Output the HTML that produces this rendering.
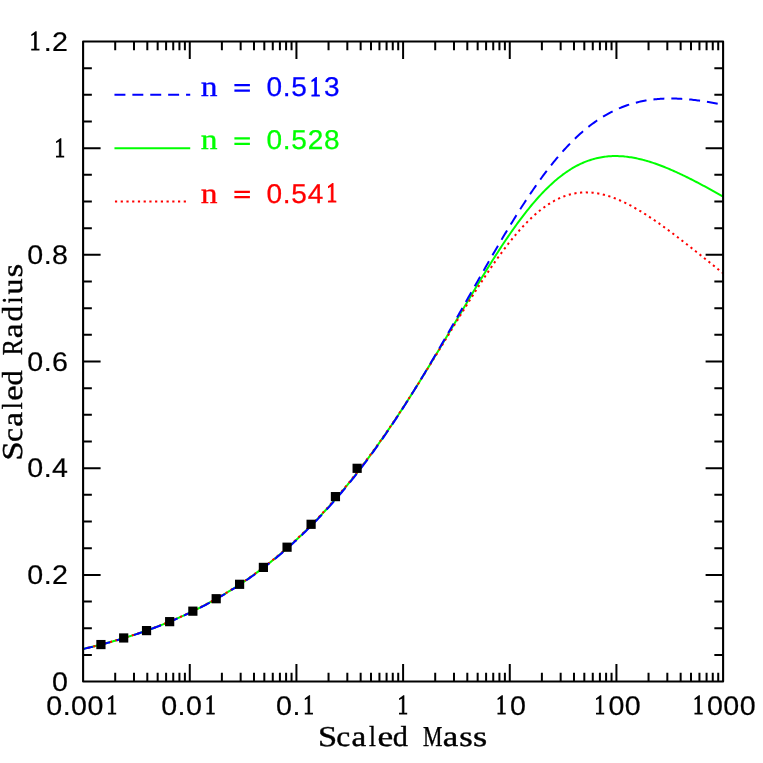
<!DOCTYPE html>
<html><head><meta charset="utf-8"><title>Scaled Mass - Scaled Radius</title>
<style>
html,body{margin:0;padding:0;background:#fff;}
svg{display:block;}
#wrap{width:763px;height:763px;will-change:transform;}
text{font-family:"Liberation Sans",sans-serif;text-rendering:geometricPrecision;}
.serif text, text.serif{font-family:"Liberation Serif",serif;}
</style></head><body>
<div id="wrap">
<svg width="763" height="763" viewBox="0 0 763 763">
<rect x="0" y="0" width="763" height="763" fill="#fff"/>
<defs><clipPath id="clip"><rect x="83.1" y="41.5" width="640.0" height="640.05"/></clipPath></defs>
<g clip-path="url(#clip)" fill="none" stroke-width="2" stroke-linejoin="round">
<path d="M83.10,648.96 L84.43,648.65 L85.77,648.34 L87.10,648.02 L88.43,647.71 L89.77,647.39 L91.10,647.06 L92.43,646.74 L93.77,646.41 L95.10,646.07 L96.43,645.74 L97.77,645.40 L99.10,645.06 L100.43,644.71 L101.77,644.36 L103.10,644.01 L104.43,643.66 L105.77,643.30 L107.10,642.94 L108.43,642.57 L109.77,642.20 L111.10,641.83 L112.43,641.46 L113.77,641.08 L115.10,640.69 L116.43,640.31 L117.77,639.92 L119.10,639.53 L120.43,639.13 L121.77,638.73 L123.10,638.33 L124.43,637.92 L125.77,637.51 L127.10,637.09 L128.43,636.67 L129.77,636.25 L131.10,635.83 L132.43,635.40 L133.77,634.96 L135.10,634.52 L136.43,634.08 L137.77,633.63 L139.10,633.18 L140.43,632.73 L141.77,632.27 L143.10,631.81 L144.43,631.34 L145.77,630.87 L147.10,630.39 L148.43,629.91 L149.77,629.43 L151.10,628.94 L152.43,628.45 L153.77,627.95 L155.10,627.45 L156.43,626.94 L157.77,626.43 L159.10,625.91 L160.43,625.39 L161.77,624.87 L163.10,624.34 L164.43,623.80 L165.77,623.26 L167.10,622.72 L168.43,622.17 L169.77,621.62 L171.10,621.06 L172.43,620.49 L173.77,619.92 L175.10,619.35 L176.43,618.77 L177.77,618.18 L179.10,617.59 L180.43,617.00 L181.77,616.40 L183.10,615.79 L184.43,615.18 L185.77,614.56 L187.10,613.94 L188.43,613.31 L189.77,612.68 L191.10,612.04 L192.43,611.40 L193.77,610.75 L195.10,610.09 L196.43,609.43 L197.77,608.76 L199.10,608.09 L200.43,607.41 L201.77,606.72 L203.10,606.03 L204.43,605.33 L205.77,604.63 L207.10,603.92 L208.43,603.20 L209.77,602.48 L211.10,601.75 L212.43,601.02 L213.77,600.28 L215.10,599.53 L216.43,598.77 L217.77,598.01 L219.10,597.25 L220.43,596.47 L221.77,595.69 L223.10,594.90 L224.43,594.11 L225.77,593.31 L227.10,592.50 L228.43,591.68 L229.77,590.86 L231.10,590.03 L232.43,589.20 L233.77,588.35 L235.10,587.50 L236.43,586.64 L237.77,585.78 L239.10,584.91 L240.43,584.03 L241.77,583.14 L243.10,582.24 L244.43,581.34 L245.77,580.43 L247.10,579.51 L248.43,578.59 L249.77,577.66 L251.10,576.72 L252.43,575.77 L253.77,574.81 L255.10,573.85 L256.43,572.87 L257.77,571.89 L259.10,570.90 L260.43,569.91 L261.77,568.90 L263.10,567.89 L264.43,566.87 L265.77,565.84 L267.10,564.80 L268.43,563.75 L269.77,562.69 L271.10,561.63 L272.43,560.56 L273.77,559.48 L275.10,558.39 L276.43,557.29 L277.77,556.18 L279.10,555.06 L280.43,553.94 L281.77,552.80 L283.10,551.66 L284.43,550.51 L285.77,549.34 L287.10,548.17 L288.43,546.99 L289.77,545.80 L291.10,544.60 L292.43,543.40 L293.77,542.18 L295.10,540.95 L296.43,539.72 L297.77,538.47 L299.10,537.21 L300.43,535.95 L301.77,534.67 L303.10,533.39 L304.43,532.09 L305.77,530.79 L307.10,529.48 L308.43,528.15 L309.77,526.82 L311.10,525.47 L312.43,524.12 L313.77,522.76 L315.10,521.38 L316.43,520.00 L317.77,518.60 L319.10,517.20 L320.43,515.78 L321.77,514.36 L323.10,512.92 L324.43,511.48 L325.77,510.02 L327.10,508.55 L328.43,507.08 L329.77,505.59 L331.10,504.09 L332.43,502.58 L333.77,501.07 L335.10,499.54 L336.43,498.00 L337.77,496.45 L339.10,494.88 L340.43,493.31 L341.77,491.73 L343.10,490.14 L344.43,488.53 L345.77,486.92 L347.10,485.30 L348.43,483.66 L349.77,482.01 L351.10,480.36 L352.43,478.69 L353.77,477.01 L355.10,475.32 L356.43,473.62 L357.77,471.91 L359.10,470.19 L360.43,468.46 L361.77,466.72 L363.10,464.96 L364.43,463.20 L365.77,461.43 L367.10,459.64 L368.43,457.85 L369.77,456.04 L371.10,454.22 L372.43,452.40 L373.77,450.56 L375.10,448.71 L376.43,446.85 L377.77,444.99 L379.10,443.11 L380.43,441.22 L381.77,439.32 L383.10,437.41 L384.43,435.49 L385.77,433.56 L387.10,431.62 L388.43,429.67 L389.77,427.72 L391.10,425.75 L392.43,423.77 L393.77,421.78 L395.10,419.79 L396.43,417.78 L397.77,415.76 L399.10,413.74 L400.43,411.71 L401.77,409.66 L403.10,407.61 L404.43,405.55 L405.77,403.48 L407.10,401.41 L408.43,399.32 L409.77,397.23 L411.10,395.12 L412.43,393.01 L413.77,390.90 L415.10,388.77 L416.43,386.64 L417.77,384.50 L419.10,382.35 L420.43,380.20 L421.77,378.04 L423.10,375.87 L424.43,373.70 L425.77,371.52 L427.10,369.33 L428.43,367.14 L429.77,364.94 L431.10,362.74 L432.43,360.53 L433.77,358.32 L435.10,356.10 L436.43,353.88 L437.77,351.65 L439.10,349.42 L440.43,347.19 L441.77,344.95 L443.10,342.71 L444.43,340.46 L445.77,338.22 L447.10,335.97 L448.43,333.72 L449.77,331.47 L451.10,329.21 L452.43,326.96 L453.77,324.70 L455.10,322.45 L456.43,320.19 L457.77,317.93 L459.10,315.68 L460.43,313.42 L461.77,311.17 L463.10,308.92 L464.43,306.67 L465.77,304.42 L467.10,302.17 L468.43,299.93 L469.77,297.69 L471.10,295.46 L472.43,293.23 L473.77,291.00 L475.10,288.78 L476.43,286.56 L477.77,284.35 L479.10,282.15 L480.43,279.95 L481.77,277.76 L483.10,275.58 L484.43,273.41 L485.77,271.24 L487.10,269.08 L488.43,266.94 L489.77,264.80 L491.10,262.67 L492.43,260.55 L493.77,258.45 L495.10,256.35 L496.43,254.27 L497.77,252.20 L499.10,250.14 L500.43,248.10 L501.77,246.07 L503.10,244.05 L504.43,242.05 L505.77,240.06 L507.10,238.09 L508.43,236.13 L509.77,234.20 L511.10,232.27 L512.43,230.37 L513.77,228.48 L515.10,226.61 L516.43,224.76 L517.77,222.93 L519.10,221.12 L520.43,219.33 L521.77,217.56 L523.10,215.81 L524.43,214.08 L525.77,212.37 L527.10,210.68 L528.43,209.02 L529.77,207.37 L531.10,205.75 L532.43,204.16 L533.77,202.58 L535.10,201.03 L536.43,199.51 L537.77,198.01 L539.10,196.53 L540.43,195.08 L541.77,193.65 L543.10,192.25 L544.43,190.88 L545.77,189.53 L547.10,188.21 L548.43,186.91 L549.77,185.64 L551.10,184.40 L552.43,183.18 L553.77,181.99 L555.10,180.83 L556.43,179.69 L557.77,178.58 L559.10,177.50 L560.43,176.45 L561.77,175.42 L563.10,174.42 L564.43,173.45 L565.77,172.51 L567.10,171.59 L568.43,170.71 L569.77,169.85 L571.10,169.01 L572.43,168.21 L573.77,167.43 L575.10,166.68 L576.43,165.96 L577.77,165.26 L579.10,164.59 L580.43,163.95 L581.77,163.33 L583.10,162.74 L584.43,162.18 L585.77,161.65 L587.10,161.14 L588.43,160.65 L589.77,160.19 L591.10,159.76 L592.43,159.35 L593.77,158.97 L595.10,158.61 L596.43,158.28 L597.77,157.97 L599.10,157.69 L600.43,157.43 L601.77,157.19 L603.10,156.98 L604.43,156.79 L605.77,156.62 L607.10,156.47 L608.43,156.35 L609.77,156.25 L611.10,156.17 L612.43,156.11 L613.77,156.07 L615.10,156.06 L616.43,156.06 L617.77,156.08 L619.10,156.13 L620.43,156.19 L621.77,156.27 L623.10,156.37 L624.43,156.49 L625.77,156.63 L627.10,156.78 L628.43,156.95 L629.77,157.14 L631.10,157.35 L632.43,157.57 L633.77,157.81 L635.10,158.06 L636.43,158.33 L637.77,158.62 L639.10,158.92 L640.43,159.23 L641.77,159.56 L643.10,159.90 L644.43,160.26 L645.77,160.63 L647.10,161.01 L648.43,161.41 L649.77,161.82 L651.10,162.24 L652.43,162.67 L653.77,163.11 L655.10,163.57 L656.43,164.03 L657.77,164.51 L659.10,165.00 L660.43,165.50 L661.77,166.01 L663.10,166.52 L664.43,167.05 L665.77,167.59 L667.10,168.13 L668.43,168.69 L669.77,169.25 L671.10,169.82 L672.43,170.40 L673.77,170.99 L675.10,171.59 L676.43,172.19 L677.77,172.80 L679.10,173.42 L680.43,174.04 L681.77,174.67 L683.10,175.31 L684.43,175.95 L685.77,176.60 L687.10,177.26 L688.43,177.92 L689.77,178.59 L691.10,179.26 L692.43,179.94 L693.77,180.62 L695.10,181.30 L696.43,182.00 L697.77,182.69 L699.10,183.39 L700.43,184.10 L701.77,184.81 L703.10,185.52 L704.43,186.24 L705.77,186.96 L707.10,187.68 L708.43,188.41 L709.77,189.14 L711.10,189.87 L712.43,190.61 L713.77,191.35 L715.10,192.09 L716.43,192.84 L717.77,193.59 L719.10,194.34 L720.43,195.09 L721.77,195.84 L723.10,196.60" stroke="#00ff00"/>
<path d="M83.10,648.92 L84.43,648.62 L85.77,648.30 L87.10,647.99 L88.43,647.67 L89.77,647.35 L91.10,647.02 L92.43,646.70 L93.77,646.37 L95.10,646.03 L96.43,645.70 L97.77,645.36 L99.10,645.01 L100.43,644.67 L101.77,644.32 L103.10,643.97 L104.43,643.61 L105.77,643.25 L107.10,642.89 L108.43,642.52 L109.77,642.15 L111.10,641.78 L112.43,641.41 L113.77,641.03 L115.10,640.64 L116.43,640.26 L117.77,639.87 L119.10,639.47 L120.43,639.08 L121.77,638.67 L123.10,638.27 L124.43,637.86 L125.77,637.45 L127.10,637.03 L128.43,636.61 L129.77,636.19 L131.10,635.76 L132.43,635.33 L133.77,634.90 L135.10,634.46 L136.43,634.01 L137.77,633.57 L139.10,633.11 L140.43,632.66 L141.77,632.20 L143.10,631.74 L144.43,631.27 L145.77,630.79 L147.10,630.32 L148.43,629.84 L149.77,629.35 L151.10,628.86 L152.43,628.37 L153.77,627.87 L155.10,627.37 L156.43,626.86 L157.77,626.34 L159.10,625.83 L160.43,625.31 L161.77,624.78 L163.10,624.25 L164.43,623.71 L165.77,623.17 L167.10,622.62 L168.43,622.07 L169.77,621.52 L171.10,620.96 L172.43,620.39 L173.77,619.82 L175.10,619.24 L176.43,618.66 L177.77,618.08 L179.10,617.49 L180.43,616.89 L181.77,616.29 L183.10,615.68 L184.43,615.07 L185.77,614.45 L187.10,613.82 L188.43,613.19 L189.77,612.56 L191.10,611.92 L192.43,611.27 L193.77,610.62 L195.10,609.96 L196.43,609.30 L197.77,608.63 L199.10,607.95 L200.43,607.27 L201.77,606.58 L203.10,605.89 L204.43,605.19 L205.77,604.48 L207.10,603.77 L208.43,603.05 L209.77,602.33 L211.10,601.60 L212.43,600.86 L213.77,600.12 L215.10,599.37 L216.43,598.61 L217.77,597.85 L219.10,597.08 L220.43,596.30 L221.77,595.52 L223.10,594.73 L224.43,593.93 L225.77,593.13 L227.10,592.32 L228.43,591.50 L229.77,590.67 L231.10,589.84 L232.43,589.00 L233.77,588.16 L235.10,587.30 L236.43,586.44 L237.77,585.57 L239.10,584.70 L240.43,583.82 L241.77,582.93 L243.10,582.03 L244.43,581.12 L245.77,580.21 L247.10,579.29 L248.43,578.36 L249.77,577.43 L251.10,576.48 L252.43,575.53 L253.77,574.57 L255.10,573.60 L256.43,572.63 L257.77,571.64 L259.10,570.65 L260.43,569.65 L261.77,568.64 L263.10,567.63 L264.43,566.60 L265.77,565.57 L267.10,564.53 L268.43,563.48 L269.77,562.42 L271.10,561.35 L272.43,560.27 L273.77,559.19 L275.10,558.10 L276.43,556.99 L277.77,555.88 L279.10,554.76 L280.43,553.63 L281.77,552.50 L283.10,551.35 L284.43,550.19 L285.77,549.03 L287.10,547.85 L288.43,546.67 L289.77,545.48 L291.10,544.27 L292.43,543.06 L293.77,541.84 L295.10,540.61 L296.43,539.37 L297.77,538.12 L299.10,536.86 L300.43,535.59 L301.77,534.32 L303.10,533.03 L304.43,531.73 L305.77,530.42 L307.10,529.10 L308.43,527.78 L309.77,526.44 L311.10,525.09 L312.43,523.74 L313.77,522.37 L315.10,520.99 L316.43,519.60 L317.77,518.21 L319.10,516.80 L320.43,515.38 L321.77,513.95 L323.10,512.52 L324.43,511.07 L325.77,509.61 L327.10,508.14 L328.43,506.66 L329.77,505.17 L331.10,503.67 L332.43,502.16 L333.77,500.64 L335.10,499.11 L336.43,497.57 L337.77,496.01 L339.10,494.45 L340.43,492.88 L341.77,491.29 L343.10,489.70 L344.43,488.09 L345.77,486.48 L347.10,484.85 L348.43,483.22 L349.77,481.57 L351.10,479.91 L352.43,478.25 L353.77,476.57 L355.10,474.88 L356.43,473.18 L357.77,471.47 L359.10,469.75 L360.43,468.02 L361.77,466.28 L363.10,464.53 L364.43,462.77 L365.77,460.99 L367.10,459.21 L368.43,457.42 L369.77,455.62 L371.10,453.80 L372.43,451.98 L373.77,450.15 L375.10,448.30 L376.43,446.45 L377.77,444.59 L379.10,442.72 L380.43,440.83 L381.77,438.94 L383.10,437.04 L384.43,435.13 L385.77,433.21 L387.10,431.28 L388.43,429.34 L389.77,427.39 L391.10,425.43 L392.43,423.47 L393.77,421.49 L395.10,419.51 L396.43,417.51 L397.77,415.51 L399.10,413.50 L400.43,411.48 L401.77,409.46 L403.10,407.42 L404.43,405.38 L405.77,403.33 L407.10,401.27 L408.43,399.21 L409.77,397.13 L411.10,395.05 L412.43,392.97 L413.77,390.87 L415.10,388.77 L416.43,386.67 L417.77,384.56 L419.10,382.44 L420.43,380.31 L421.77,378.18 L423.10,376.05 L424.43,373.91 L425.77,371.76 L427.10,369.62 L428.43,367.46 L429.77,365.30 L431.10,363.14 L432.43,360.98 L433.77,358.81 L435.10,356.64 L436.43,354.46 L437.77,352.29 L439.10,350.11 L440.43,347.93 L441.77,345.74 L443.10,343.56 L444.43,341.38 L445.77,339.19 L447.10,337.01 L448.43,334.82 L449.77,332.64 L451.10,330.46 L452.43,328.27 L453.77,326.09 L455.10,323.92 L456.43,321.74 L457.77,319.57 L459.10,317.40 L460.43,315.23 L461.77,313.07 L463.10,310.91 L464.43,308.76 L465.77,306.61 L467.10,304.47 L468.43,302.34 L469.77,300.21 L471.10,298.09 L472.43,295.97 L473.77,293.87 L475.10,291.77 L476.43,289.69 L477.77,287.61 L479.10,285.54 L480.43,283.48 L481.77,281.44 L483.10,279.40 L484.43,277.38 L485.77,275.37 L487.10,273.38 L488.43,271.39 L489.77,269.42 L491.10,267.47 L492.43,265.53 L493.77,263.61 L495.10,261.70 L496.43,259.81 L497.77,257.94 L499.10,256.09 L500.43,254.25 L501.77,252.43 L503.10,250.64 L504.43,248.86 L505.77,247.10 L507.10,245.36 L508.43,243.65 L509.77,241.96 L511.10,240.29 L512.43,238.64 L513.77,237.01 L515.10,235.41 L516.43,233.84 L517.77,232.29 L519.10,230.76 L520.43,229.26 L521.77,227.78 L523.10,226.34 L524.43,224.92 L525.77,223.52 L527.10,222.16 L528.43,220.82 L529.77,219.51 L531.10,218.23 L532.43,216.97 L533.77,215.75 L535.10,214.56 L536.43,213.40 L537.77,212.26 L539.10,211.16 L540.43,210.09 L541.77,209.05 L543.10,208.04 L544.43,207.06 L545.77,206.11 L547.10,205.20 L548.43,204.31 L549.77,203.46 L551.10,202.64 L552.43,201.85 L553.77,201.10 L555.10,200.37 L556.43,199.68 L557.77,199.02 L559.10,198.39 L560.43,197.79 L561.77,197.23 L563.10,196.70 L564.43,196.20 L565.77,195.73 L567.10,195.29 L568.43,194.88 L569.77,194.51 L571.10,194.17 L572.43,193.85 L573.77,193.57 L575.10,193.32 L576.43,193.10 L577.77,192.91 L579.10,192.74 L580.43,192.61 L581.77,192.51 L583.10,192.43 L584.43,192.39 L585.77,192.37 L587.10,192.38 L588.43,192.42 L589.77,192.48 L591.10,192.57 L592.43,192.69 L593.77,192.84 L595.10,193.01 L596.43,193.20 L597.77,193.42 L599.10,193.67 L600.43,193.94 L601.77,194.23 L603.10,194.55 L604.43,194.89 L605.77,195.25 L607.10,195.63 L608.43,196.04 L609.77,196.46 L611.10,196.91 L612.43,197.38 L613.77,197.87 L615.10,198.38 L616.43,198.90 L617.77,199.45 L619.10,200.01 L620.43,200.59 L621.77,201.19 L623.10,201.81 L624.43,202.44 L625.77,203.09 L627.10,203.76 L628.43,204.44 L629.77,205.13 L631.10,205.84 L632.43,206.57 L633.77,207.31 L635.10,208.06 L636.43,208.83 L637.77,209.60 L639.10,210.40 L640.43,211.20 L641.77,212.01 L643.10,212.84 L644.43,213.68 L645.77,214.52 L647.10,215.38 L648.43,216.25 L649.77,217.13 L651.10,218.01 L652.43,218.91 L653.77,219.82 L655.10,220.73 L656.43,221.65 L657.77,222.58 L659.10,223.52 L660.43,224.46 L661.77,225.41 L663.10,226.37 L664.43,227.34 L665.77,228.31 L667.10,229.29 L668.43,230.27 L669.77,231.26 L671.10,232.25 L672.43,233.25 L673.77,234.26 L675.10,235.26 L676.43,236.28 L677.77,237.30 L679.10,238.32 L680.43,239.34 L681.77,240.37 L683.10,241.40 L684.43,242.44 L685.77,243.48 L687.10,244.52 L688.43,245.56 L689.77,246.61 L691.10,247.66 L692.43,248.71 L693.77,249.77 L695.10,250.82 L696.43,251.88 L697.77,252.94 L699.10,254.00 L700.43,255.06 L701.77,256.13 L703.10,257.19 L704.43,258.26 L705.77,259.32 L707.10,260.39 L708.43,261.46 L709.77,262.53 L711.10,263.60 L712.43,264.67 L713.77,265.74 L715.10,266.81 L716.43,267.88 L717.77,268.95 L719.10,270.02 L720.43,271.09 L721.77,272.16 L723.10,273.23" stroke="#ff0000" stroke-linecap="square" stroke-dasharray="0.2 5.53"/>
<path d="M83.10,649.00 L84.43,648.70 L85.77,648.38 L87.10,648.07 L88.43,647.75 L89.77,647.43 L91.10,647.11 L92.43,646.78 L93.77,646.46 L95.10,646.12 L96.43,645.79 L97.77,645.45 L99.10,645.11 L100.43,644.76 L101.77,644.42 L103.10,644.07 L104.43,643.71 L105.77,643.35 L107.10,642.99 L108.43,642.63 L109.77,642.26 L111.10,641.89 L112.43,641.52 L113.77,641.14 L115.10,640.76 L116.43,640.37 L117.77,639.99 L119.10,639.59 L120.43,639.20 L121.77,638.80 L123.10,638.40 L124.43,637.99 L125.77,637.58 L127.10,637.17 L128.43,636.75 L129.77,636.33 L131.10,635.90 L132.43,635.47 L133.77,635.04 L135.10,634.60 L136.43,634.16 L137.77,633.72 L139.10,633.27 L140.43,632.82 L141.77,632.36 L143.10,631.90 L144.43,631.43 L145.77,630.96 L147.10,630.49 L148.43,630.01 L149.77,629.53 L151.10,629.04 L152.43,628.55 L153.77,628.05 L155.10,627.55 L156.43,627.05 L157.77,626.54 L159.10,626.02 L160.43,625.50 L161.77,624.98 L163.10,624.45 L164.43,623.92 L165.77,623.38 L167.10,622.84 L168.43,622.29 L169.77,621.74 L171.10,621.18 L172.43,620.62 L173.77,620.05 L175.10,619.48 L176.43,618.90 L177.77,618.32 L179.10,617.73 L180.43,617.13 L181.77,616.54 L183.10,615.93 L184.43,615.32 L185.77,614.71 L187.10,614.09 L188.43,613.46 L189.77,612.83 L191.10,612.19 L192.43,611.55 L193.77,610.90 L195.10,610.25 L196.43,609.59 L197.77,608.93 L199.10,608.25 L200.43,607.58 L201.77,606.89 L203.10,606.20 L204.43,605.51 L205.77,604.81 L207.10,604.10 L208.43,603.39 L209.77,602.67 L211.10,601.94 L212.43,601.21 L213.77,600.47 L215.10,599.72 L216.43,598.97 L217.77,598.21 L219.10,597.45 L220.43,596.68 L221.77,595.90 L223.10,595.12 L224.43,594.32 L225.77,593.53 L227.10,592.72 L228.43,591.91 L229.77,591.09 L231.10,590.26 L232.43,589.43 L233.77,588.59 L235.10,587.74 L236.43,586.89 L237.77,586.03 L239.10,585.16 L240.43,584.28 L241.77,583.40 L243.10,582.50 L244.43,581.60 L245.77,580.70 L247.10,579.78 L248.43,578.86 L249.77,577.93 L251.10,576.99 L252.43,576.05 L253.77,575.10 L255.10,574.14 L256.43,573.17 L257.77,572.19 L259.10,571.20 L260.43,570.21 L261.77,569.21 L263.10,568.20 L264.43,567.18 L265.77,566.15 L267.10,565.12 L268.43,564.08 L269.77,563.03 L271.10,561.96 L272.43,560.90 L273.77,559.82 L275.10,558.73 L276.43,557.64 L277.77,556.53 L279.10,555.42 L280.43,554.30 L281.77,553.17 L283.10,552.03 L284.43,550.88 L285.77,549.72 L287.10,548.55 L288.43,547.38 L289.77,546.19 L291.10,545.00 L292.43,543.79 L293.77,542.58 L295.10,541.36 L296.43,540.12 L297.77,538.88 L299.10,537.63 L300.43,536.37 L301.77,535.10 L303.10,533.82 L304.43,532.52 L305.77,531.22 L307.10,529.91 L308.43,528.59 L309.77,527.26 L311.10,525.92 L312.43,524.57 L313.77,523.21 L315.10,521.84 L316.43,520.46 L317.77,519.07 L319.10,517.67 L320.43,516.26 L321.77,514.83 L323.10,513.40 L324.43,511.96 L325.77,510.51 L327.10,509.04 L328.43,507.57 L329.77,506.08 L331.10,504.59 L332.43,503.08 L333.77,501.57 L335.10,500.04 L336.43,498.50 L337.77,496.95 L339.10,495.39 L340.43,493.82 L341.77,492.24 L343.10,490.65 L344.43,489.05 L345.77,487.44 L347.10,485.81 L348.43,484.18 L349.77,482.53 L351.10,480.87 L352.43,479.21 L353.77,477.53 L355.10,475.84 L356.43,474.14 L357.77,472.43 L359.10,470.70 L360.43,468.97 L361.77,467.23 L363.10,465.47 L364.43,463.71 L365.77,461.93 L367.10,460.14 L368.43,458.34 L369.77,456.53 L371.10,454.71 L372.43,452.88 L373.77,451.04 L375.10,449.18 L376.43,447.32 L377.77,445.45 L379.10,443.56 L380.43,441.66 L381.77,439.76 L383.10,437.84 L384.43,435.91 L385.77,433.97 L387.10,432.02 L388.43,430.07 L389.77,428.10 L391.10,426.12 L392.43,424.12 L393.77,422.12 L395.10,420.11 L396.43,418.09 L397.77,416.06 L399.10,414.02 L400.43,411.97 L401.77,409.91 L403.10,407.84 L404.43,405.76 L405.77,403.67 L407.10,401.57 L408.43,399.46 L409.77,397.34 L411.10,395.22 L412.43,393.08 L413.77,390.94 L415.10,388.78 L416.43,386.62 L417.77,384.45 L419.10,382.27 L420.43,380.09 L421.77,377.89 L423.10,375.69 L424.43,373.48 L425.77,371.26 L427.10,369.03 L428.43,366.80 L429.77,364.56 L431.10,362.31 L432.43,360.05 L433.77,357.79 L435.10,355.52 L436.43,353.25 L437.77,350.97 L439.10,348.68 L440.43,346.39 L441.77,344.09 L443.10,341.79 L444.43,339.48 L445.77,337.17 L447.10,334.85 L448.43,332.53 L449.77,330.20 L451.10,327.88 L452.43,325.54 L453.77,323.20 L455.10,320.86 L456.43,318.52 L457.77,316.18 L459.10,313.83 L460.43,311.48 L461.77,309.13 L463.10,306.77 L464.43,304.42 L465.77,302.07 L467.10,299.71 L468.43,297.35 L469.77,295.00 L471.10,292.64 L472.43,290.29 L473.77,287.93 L475.10,285.58 L476.43,283.23 L477.77,280.88 L479.10,278.53 L480.43,276.19 L481.77,273.85 L483.10,271.51 L484.43,269.17 L485.77,266.84 L487.10,264.52 L488.43,262.20 L489.77,259.88 L491.10,257.57 L492.43,255.27 L493.77,252.97 L495.10,250.68 L496.43,248.39 L497.77,246.11 L499.10,243.84 L500.43,241.58 L501.77,239.33 L503.10,237.08 L504.43,234.85 L505.77,232.62 L507.10,230.41 L508.43,228.20 L509.77,226.01 L511.10,223.83 L512.43,221.66 L513.77,219.50 L515.10,217.35 L516.43,215.21 L517.77,213.09 L519.10,210.98 L520.43,208.89 L521.77,206.81 L523.10,204.74 L524.43,202.69 L525.77,200.65 L527.10,198.63 L528.43,196.63 L529.77,194.64 L531.10,192.67 L532.43,190.71 L533.77,188.77 L535.10,186.85 L536.43,184.95 L537.77,183.07 L539.10,181.20 L540.43,179.35 L541.77,177.52 L543.10,175.71 L544.43,173.92 L545.77,172.15 L547.10,170.40 L548.43,168.67 L549.77,166.96 L551.10,165.27 L552.43,163.60 L553.77,161.95 L555.10,160.32 L556.43,158.72 L557.77,157.13 L559.10,155.57 L560.43,154.03 L561.77,152.51 L563.10,151.01 L564.43,149.54 L565.77,148.09 L567.10,146.66 L568.43,145.25 L569.77,143.86 L571.10,142.50 L572.43,141.16 L573.77,139.85 L575.10,138.55 L576.43,137.28 L577.77,136.04 L579.10,134.81 L580.43,133.61 L581.77,132.43 L583.10,131.27 L584.43,130.14 L585.77,129.03 L587.10,127.94 L588.43,126.87 L589.77,125.83 L591.10,124.81 L592.43,123.81 L593.77,122.84 L595.10,121.88 L596.43,120.95 L597.77,120.04 L599.10,119.16 L600.43,118.29 L601.77,117.45 L603.10,116.63 L604.43,115.82 L605.77,115.04 L607.10,114.29 L608.43,113.55 L609.77,112.83 L611.10,112.13 L612.43,111.46 L613.77,110.80 L615.10,110.16 L616.43,109.55 L617.77,108.95 L619.10,108.37 L620.43,107.81 L621.77,107.27 L623.10,106.75 L624.43,106.25 L625.77,105.76 L627.10,105.30 L628.43,104.85 L629.77,104.42 L631.10,104.00 L632.43,103.61 L633.77,103.23 L635.10,102.86 L636.43,102.52 L637.77,102.19 L639.10,101.87 L640.43,101.57 L641.77,101.29 L643.10,101.02 L644.43,100.77 L645.77,100.53 L647.10,100.31 L648.43,100.10 L649.77,99.90 L651.10,99.72 L652.43,99.55 L653.77,99.40 L655.10,99.26 L656.43,99.13 L657.77,99.01 L659.10,98.91 L660.43,98.82 L661.77,98.74 L663.10,98.67 L664.43,98.61 L665.77,98.57 L667.10,98.54 L668.43,98.51 L669.77,98.50 L671.10,98.50 L672.43,98.51 L673.77,98.53 L675.10,98.56 L676.43,98.60 L677.77,98.65 L679.10,98.70 L680.43,98.77 L681.77,98.85 L683.10,98.93 L684.43,99.02 L685.77,99.13 L687.10,99.24 L688.43,99.35 L689.77,99.48 L691.10,99.61 L692.43,99.75 L693.77,99.90 L695.10,100.06 L696.43,100.22 L697.77,100.39 L699.10,100.57 L700.43,100.75 L701.77,100.94 L703.10,101.13 L704.43,101.34 L705.77,101.54 L707.10,101.76 L708.43,101.98 L709.77,102.20 L711.10,102.43 L712.43,102.67 L713.77,102.91 L715.10,103.15 L716.43,103.40 L717.77,103.66 L719.10,103.92 L720.43,104.19 L721.77,104.46 L723.10,104.73" stroke="#0000ff" stroke-linecap="square" stroke-dasharray="8.95 8.95"/>
</g>
<g fill="#000">
<rect x="96.33" y="639.96" width="9.2" height="9.2"/>
<rect x="119.08" y="633.36" width="9.2" height="9.2"/>
<rect x="141.94" y="626.00" width="9.2" height="9.2"/>
<rect x="165.06" y="617.05" width="9.2" height="9.2"/>
<rect x="188.26" y="606.57" width="9.2" height="9.2"/>
<rect x="211.59" y="594.12" width="9.2" height="9.2"/>
<rect x="235.00" y="579.70" width="9.2" height="9.2"/>
<rect x="258.79" y="562.80" width="9.2" height="9.2"/>
<rect x="282.46" y="542.60" width="9.2" height="9.2"/>
<rect x="306.50" y="519.70" width="9.2" height="9.2"/>
<rect x="330.84" y="492.02" width="9.2" height="9.2"/>
<rect x="352.54" y="463.71" width="9.2" height="9.2"/>
</g>
<g stroke="#000" stroke-width="2" fill="none">
<path d="M115.21,681.55v-8.75M115.21,41.5v8.75"/>
<path d="M133.99,681.55v-8.75M133.99,41.5v8.75"/>
<path d="M147.32,681.55v-8.75M147.32,41.5v8.75"/>
<path d="M157.66,681.55v-8.75M157.66,41.5v8.75"/>
<path d="M166.10,681.55v-8.75M166.10,41.5v8.75"/>
<path d="M173.24,681.55v-8.75M173.24,41.5v8.75"/>
<path d="M179.43,681.55v-8.75M179.43,41.5v8.75"/>
<path d="M184.89,681.55v-8.75M184.89,41.5v8.75"/>
<path d="M189.77,681.55v-17.5M189.77,41.5v17.5"/>
<path d="M221.88,681.55v-8.75M221.88,41.5v8.75"/>
<path d="M240.66,681.55v-8.75M240.66,41.5v8.75"/>
<path d="M253.99,681.55v-8.75M253.99,41.5v8.75"/>
<path d="M264.32,681.55v-8.75M264.32,41.5v8.75"/>
<path d="M272.77,681.55v-8.75M272.77,41.5v8.75"/>
<path d="M279.91,681.55v-8.75M279.91,41.5v8.75"/>
<path d="M286.10,681.55v-8.75M286.10,41.5v8.75"/>
<path d="M291.55,681.55v-8.75M291.55,41.5v8.75"/>
<path d="M296.43,681.55v-17.5M296.43,41.5v17.5"/>
<path d="M328.54,681.55v-8.75M328.54,41.5v8.75"/>
<path d="M347.33,681.55v-8.75M347.33,41.5v8.75"/>
<path d="M360.65,681.55v-8.75M360.65,41.5v8.75"/>
<path d="M370.99,681.55v-8.75M370.99,41.5v8.75"/>
<path d="M379.44,681.55v-8.75M379.44,41.5v8.75"/>
<path d="M386.58,681.55v-8.75M386.58,41.5v8.75"/>
<path d="M392.76,681.55v-8.75M392.76,41.5v8.75"/>
<path d="M398.22,681.55v-8.75M398.22,41.5v8.75"/>
<path d="M403.10,681.55v-17.5M403.10,41.5v17.5"/>
<path d="M435.21,681.55v-8.75M435.21,41.5v8.75"/>
<path d="M453.99,681.55v-8.75M453.99,41.5v8.75"/>
<path d="M467.32,681.55v-8.75M467.32,41.5v8.75"/>
<path d="M477.66,681.55v-8.75M477.66,41.5v8.75"/>
<path d="M486.10,681.55v-8.75M486.10,41.5v8.75"/>
<path d="M493.24,681.55v-8.75M493.24,41.5v8.75"/>
<path d="M499.43,681.55v-8.75M499.43,41.5v8.75"/>
<path d="M504.89,681.55v-8.75M504.89,41.5v8.75"/>
<path d="M509.77,681.55v-17.5M509.77,41.5v17.5"/>
<path d="M541.88,681.55v-8.75M541.88,41.5v8.75"/>
<path d="M560.66,681.55v-8.75M560.66,41.5v8.75"/>
<path d="M573.99,681.55v-8.75M573.99,41.5v8.75"/>
<path d="M584.32,681.55v-8.75M584.32,41.5v8.75"/>
<path d="M592.77,681.55v-8.75M592.77,41.5v8.75"/>
<path d="M599.91,681.55v-8.75M599.91,41.5v8.75"/>
<path d="M606.10,681.55v-8.75M606.10,41.5v8.75"/>
<path d="M611.55,681.55v-8.75M611.55,41.5v8.75"/>
<path d="M616.43,681.55v-17.5M616.43,41.5v17.5"/>
<path d="M648.54,681.55v-8.75M648.54,41.5v8.75"/>
<path d="M667.33,681.55v-8.75M667.33,41.5v8.75"/>
<path d="M680.65,681.55v-8.75M680.65,41.5v8.75"/>
<path d="M690.99,681.55v-8.75M690.99,41.5v8.75"/>
<path d="M699.44,681.55v-8.75M699.44,41.5v8.75"/>
<path d="M706.58,681.55v-8.75M706.58,41.5v8.75"/>
<path d="M712.76,681.55v-8.75M712.76,41.5v8.75"/>
<path d="M718.22,681.55v-8.75M718.22,41.5v8.75"/>
<path d="M83.1,654.88h8.75M723.1,654.88h-8.75"/>
<path d="M83.1,628.21h8.75M723.1,628.21h-8.75"/>
<path d="M83.1,601.54h8.75M723.1,601.54h-8.75"/>
<path d="M83.1,574.88h17.5M723.1,574.88h-17.5"/>
<path d="M83.1,548.21h8.75M723.1,548.21h-8.75"/>
<path d="M83.1,521.54h8.75M723.1,521.54h-8.75"/>
<path d="M83.1,494.87h8.75M723.1,494.87h-8.75"/>
<path d="M83.1,468.20h17.5M723.1,468.20h-17.5"/>
<path d="M83.1,441.53h8.75M723.1,441.53h-8.75"/>
<path d="M83.1,414.86h8.75M723.1,414.86h-8.75"/>
<path d="M83.1,388.19h8.75M723.1,388.19h-8.75"/>
<path d="M83.1,361.52h17.5M723.1,361.52h-17.5"/>
<path d="M83.1,334.86h8.75M723.1,334.86h-8.75"/>
<path d="M83.1,308.19h8.75M723.1,308.19h-8.75"/>
<path d="M83.1,281.52h8.75M723.1,281.52h-8.75"/>
<path d="M83.1,254.85h17.5M723.1,254.85h-17.5"/>
<path d="M83.1,228.18h8.75M723.1,228.18h-8.75"/>
<path d="M83.1,201.51h8.75M723.1,201.51h-8.75"/>
<path d="M83.1,174.84h8.75M723.1,174.84h-8.75"/>
<path d="M83.1,148.17h17.5M723.1,148.17h-17.5"/>
<path d="M83.1,121.51h8.75M723.1,121.51h-8.75"/>
<path d="M83.1,94.84h8.75M723.1,94.84h-8.75"/>
<path d="M83.1,68.17h8.75M723.1,68.17h-8.75"/>
</g>
<rect x="83.1" y="41.5" width="640.0" height="640.05" fill="none" stroke="#000" stroke-width="2.1" stroke-linejoin="round"/>
<g font-size="27.0" fill="#000" stroke="#000" stroke-width="0.2">
<g><text transform="translate(46.28,714.60) scale(1.06,1)" letter-spacing="0.456">0.00</text><text class="serif" transform="translate(106.41,714.30) scale(0.77,1)" font-size="27.6" stroke-width="0.9">1</text></g>
<g><text transform="translate(161.15,714.60) scale(1.06,1)" letter-spacing="0.456">0.0</text><text class="serif" transform="translate(204.88,714.30) scale(0.77,1)" font-size="27.6" stroke-width="0.9">1</text></g>
<g><text transform="translate(276.02,714.60) scale(1.06,1)" letter-spacing="0.456">0.</text><text class="serif" transform="translate(303.35,714.30) scale(0.77,1)" font-size="27.6" stroke-width="0.9">1</text></g>
<g><text class="serif" transform="translate(397.60,714.30) scale(0.77,1)" font-size="27.6" stroke-width="0.9">1</text></g>
<g><text class="serif" transform="translate(496.07,714.30) scale(0.77,1)" font-size="27.6" stroke-width="0.9">1</text><text transform="translate(509.97,714.60) scale(1.06,1)" letter-spacing="0.456">0</text></g>
<g><text class="serif" transform="translate(594.53,714.30) scale(0.77,1)" font-size="27.6" stroke-width="0.9">1</text><text transform="translate(608.43,714.60) scale(1.06,1)" letter-spacing="0.456">00</text></g>
<g><text class="serif" transform="translate(693.00,714.30) scale(0.77,1)" font-size="27.6" stroke-width="0.9">1</text><text transform="translate(706.90,714.60) scale(1.06,1)" letter-spacing="0.456">000</text></g>
<g><text class="serif" transform="translate(29.77,50.30) scale(0.77,1)" font-size="27.6" stroke-width="0.9">1</text><text transform="translate(43.67,50.60) scale(1.06,1)" letter-spacing="0.456">.2</text></g>
<g><text class="serif" transform="translate(54.60,156.97) scale(0.77,1)" font-size="27.6" stroke-width="0.9">1</text></g>
<g><text transform="translate(27.27,263.95) scale(1.06,1)" letter-spacing="0.456">0.8</text></g>
<g><text transform="translate(27.27,370.62) scale(1.06,1)" letter-spacing="0.456">0.6</text></g>
<g><text transform="translate(27.27,477.30) scale(1.06,1)" letter-spacing="0.456">0.4</text></g>
<g><text transform="translate(27.27,583.98) scale(1.06,1)" letter-spacing="0.456">0.2</text></g>
<g><text transform="translate(52.10,690.65) scale(1.06,1)" letter-spacing="0.456">0</text></g>
</g>
<g class="serif" font-size="28.9" fill="#000" stroke="#000" stroke-width="0.4">
<text transform="translate(317.90,746.3) scale(1.191,1)">S</text><text transform="translate(336.30,746.3) scale(1.089,1)">c</text><text transform="translate(351.43,746.3) scale(1.148,1)">a</text><text transform="translate(369.10,746.3) scale(0.859,1)">l</text><text transform="translate(377.42,746.3) scale(1.225,1)">e</text><text transform="translate(392.80,746.3) scale(1.050,1)">d</text><text transform="translate(422.97,746.3) scale(0.754,1)">M</text><text transform="translate(442.67,746.3) scale(1.209,1)">a</text><text transform="translate(459.18,746.3) scale(1.198,1)">s</text><text transform="translate(472.90,746.3) scale(1.264,1)">s</text>
<text transform="translate(21.7,460.40) rotate(-90) scale(1.191,1)">S</text><text transform="translate(21.7,442.00) rotate(-90) scale(1.089,1)">c</text><text transform="translate(21.7,426.87) rotate(-90) scale(1.148,1)">a</text><text transform="translate(21.7,409.20) rotate(-90) scale(0.859,1)">l</text><text transform="translate(21.7,400.88) rotate(-90) scale(1.225,1)">e</text><text transform="translate(21.7,385.50) rotate(-90) scale(1.050,1)">d</text><text transform="translate(21.7,355.34) rotate(-90) scale(0.834,1)">R</text><text transform="translate(21.7,338.15) rotate(-90) scale(1.170,1)">a</text><text transform="translate(21.7,321.53) rotate(-90) scale(1.080,1)">d</text><text transform="translate(21.7,303.62) rotate(-90) scale(0.859,1)">i</text><text transform="translate(21.7,294.42) rotate(-90) scale(1.105,1)">u</text><text transform="translate(21.7,277.46) rotate(-90) scale(1.231,1)">s</text>
</g>
<line x1="115.46" y1="94.84" x2="189.22" y2="94.84" stroke="#0000ff" stroke-width="2" stroke-linecap="square" stroke-dasharray="8.95 8.95"/>
<g fill="#0000ff" stroke="#0000ff" stroke-width="0.3"><g class="serif" font-size="28.9"><text transform="translate(200.83,96.14) scale(1.161,1)">n</text></g><path stroke="none" d="M234.4,84.04h15.5v2.2h-15.5zM234.4,89.44h15.5v2.2h-15.5z"/><g font-size="27.2" stroke-width="0.25"><g><text transform="translate(266.40,95.99) scale(1.03,1)" letter-spacing="0.747">0.5</text><text class="serif" transform="translate(310.05,95.69) scale(0.77,1)" font-size="27.8" stroke-width="1.1">1</text><text transform="translate(323.90,95.99) scale(1.03,1)" letter-spacing="0.747">3</text></g>
</g></g>
<line x1="115.46" y1="148.17" x2="189.22" y2="148.17" stroke="#00ff00" stroke-width="2" stroke-linecap="square"/>
<g fill="#00ff00" stroke="#00ff00" stroke-width="0.3"><g class="serif" font-size="28.9"><text transform="translate(200.83,149.47) scale(1.161,1)">n</text></g><path stroke="none" d="M234.4,137.37h15.5v2.2h-15.5zM234.4,142.77h15.5v2.2h-15.5z"/><g font-size="27.2" stroke-width="0.25"><g><text transform="translate(266.40,149.32) scale(1.03,1)" letter-spacing="0.747">0.528</text></g>
</g></g>
<line x1="115.46" y1="201.51" x2="189.22" y2="201.51" stroke="#ff0000" stroke-width="2" stroke-linecap="square" stroke-dasharray="0.2 5.53" stroke-dashoffset="-0.5"/>
<g fill="#ff0000" stroke="#ff0000" stroke-width="0.3"><g class="serif" font-size="28.9"><text transform="translate(200.83,202.81) scale(1.161,1)">n</text></g><path stroke="none" d="M234.4,190.71h15.5v2.2h-15.5zM234.4,196.11h15.5v2.2h-15.5z"/><g font-size="27.2" stroke-width="0.25"><g><text transform="translate(266.40,202.66) scale(1.03,1)" letter-spacing="0.747">0.54</text><text class="serif" transform="translate(326.40,202.36) scale(0.77,1)" font-size="27.8" stroke-width="1.1">1</text></g>
</g></g>

</svg>
</div>
</body></html>
